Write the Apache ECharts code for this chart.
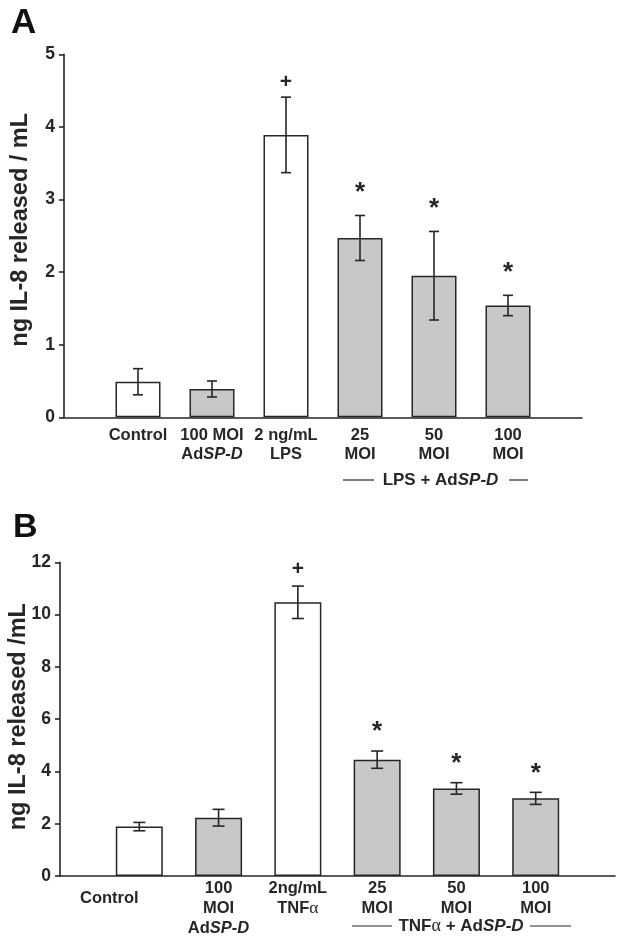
<!DOCTYPE html>
<html><head><meta charset="utf-8">
<script src="https://cdn.jsdelivr.net/npm/echarts@6/dist/echarts.min.js"></script>
<style>html,body{margin:0;padding:0;background:#fff}#c{width:624px;height:941px}</style>
</head><body><div id="c"></div>
<script>
// ---- Data (panel A: LPS) ----
var categoriesA = ['Control', '100 MOI\nAd{i|SP-D}', '2 ng/mL\nLPS', '25\nMOI', '50\nMOI', '100\nMOI'];
var valuesA = [0.49, 0.39, 3.89, 2.47, 1.95, 1.54];
var errorsA = [0.18, 0.11, 0.52, 0.31, 0.61, 0.14];
var fillA = ['white', 'gray', 'white', 'gray', 'gray', 'gray'];
var marksA = ['', '', '+', '*', '*', '*'];
var yTicksA = [0, 1, 2, 3, 4, 5];

// ---- Data (panel B: TNFα) ----
var categoriesB = ['{c|Control}', '100\nMOI\nAd{i|SP-D}', '2ng/mL\nTNF{g|α}', '25\nMOI', '50\nMOI', '100\nMOI'];
var valuesB = [1.89, 2.23, 10.47, 4.45, 3.35, 2.97];
var errorsB = [0.16, 0.32, 0.62, 0.33, 0.22, 0.23];
var fillB = ['white', 'gray', 'white', 'gray', 'gray', 'gray'];
var marksB = ['', '', '+', '*', '*', '*'];
var yTicksB = [0, 2, 4, 6, 8, 10, 12];

var FONT = '"Liberation Sans", Arial, sans-serif';
var INK = '#262626';
var GRAY = '#c8c8c8';
var LBL = 16.5;

var chart = echarts.init(document.getElementById('c'), null, {renderer: 'canvas'});

function axisCats(cats) { return [''].concat(cats).concat(['']); }

function barData(vals, fills) {
  return vals.map(function (v, i) {
    return {value: [i + 1, v], itemStyle: {color: fills[i] === 'gray' ? GRAY : '#ffffff'}};
  });
}
function errData(vals, errs) {
  return vals.map(function (v, i) { return [i + 1, v, errs[i]]; });
}
function errRender(marks, capHalf, plusGap, starGap) {
  return function (params, api) {
    var x = api.value(0), y = api.value(1), e = api.value(2);
    var hi = api.coord([x, y + e]);
    var lo = api.coord([x, y - e]);
    var st = {stroke: INK, lineWidth: 1.6};
    var ch = [
      {type: 'line', shape: {x1: hi[0], y1: hi[1], x2: lo[0], y2: lo[1]}, style: st},
      {type: 'line', shape: {x1: hi[0] - capHalf, y1: hi[1], x2: hi[0] + capHalf, y2: hi[1]}, style: st},
      {type: 'line', shape: {x1: lo[0] - capHalf, y1: lo[1], x2: lo[0] + capHalf, y2: lo[1]}, style: st}
    ];
    var m = marks[params.dataIndex];
    if (m) {
      var isStar = m === '*';
      ch.push({type: 'text', x: hi[0], y: hi[1] - (isStar ? starGap : plusGap),
        style: {text: m, fill: INK, font: 'bold ' + (isStar ? 26 : 21) + 'px ' + FONT,
          align: 'center', verticalAlign: 'middle'}});
    }
    return {type: 'group', children: ch};
  };
}

var labelRich = {
  i: {fontStyle: 'italic', fontWeight: 'bold', fontSize: LBL, fontFamily: FONT, color: INK},
  g: {fontWeight: 'normal', fontSize: 17.5, fontFamily: 'serif', color: INK},
  c: {fontWeight: 'bold', fontSize: LBL, fontFamily: FONT, color: INK, lineHeight: 40, padding: [0, 60, 0, 0]}
};

function xAxisCfg(gridIndex, cats, margin, lh) {
  return {
    type: 'category', gridIndex: gridIndex, data: axisCats(cats), boundaryGap: false,
    axisLine: {lineStyle: {color: INK, width: 1.6}}, axisTick: {show: false},
    axisLabel: {interval: 0, margin: margin, color: INK, fontWeight: 'bold', fontSize: LBL,
      fontFamily: FONT, lineHeight: lh, rich: labelRich},
    splitLine: {show: false}
  };
}
function yAxisCfg(gridIndex, ticks, name, gap, shift) {
  return {
    type: 'value', gridIndex: gridIndex, min: ticks[0], max: ticks[ticks.length - 1],
    interval: ticks[1] - ticks[0],
    name: name, nameLocation: 'middle', nameRotate: 90, nameGap: gap, nameMoveOverlap: false,
    nameTextStyle: {color: INK, fontWeight: 'bold', fontSize: 23.5, fontFamily: FONT, padding: [0, 0, 0, shift]},
    axisLine: {show: true, lineStyle: {color: INK, width: 1.6}},
    axisTick: {show: true, length: 5, lineStyle: {color: INK, width: 1.6}},
    axisLabel: {color: INK, fontWeight: 'bold', fontSize: 17.5, fontFamily: FONT, margin: 9},
    splitLine: {show: false}
  };
}

function groupLabel(cx, cy, parts, halfText, leftLen, leftGap, rightLen, rightGap) {
  return {
    type: 'group', children: [
      {type: 'line', shape: {x1: cx - halfText - leftGap - leftLen, y1: cy, x2: cx - halfText - leftGap, y2: cy}, style: {stroke: INK, lineWidth: 1.2}},
      {type: 'text', x: cx, y: cy, style: {rich: {
          b: {font: 'bold 17px ' + FONT, fill: INK},
          i: {font: 'italic bold 17px ' + FONT, fill: INK},
          g: {font: 'normal 18px serif', fill: INK}
        }, text: parts, align: 'center', verticalAlign: 'middle'}},
      {type: 'line', shape: {x1: cx + halfText + rightGap, y1: cy, x2: cx + halfText + rightGap + rightLen, y2: cy}, style: {stroke: INK, lineWidth: 1.2}}
    ]
  };
}

var option = {
  backgroundColor: '#ffffff',
  animation: false,
  grid: [
    {left: 64, top: 54.3, width: 518, height: 363, containLabel: false, outerBoundsMode: 'none'},
    {left: 60, top: 562.3, width: 555, height: 313.7, containLabel: false, outerBoundsMode: 'none'}
  ],
  xAxis: [xAxisCfg(0, categoriesA, 9, 19), xAxisCfg(1, categoriesB, 2, 20)],
  yAxis: [yAxisCfg(0, yTicksA, 'ng IL-8 released / mL', 31, 12), yAxisCfg(1, yTicksB, 'ng IL-8 released /mL', 29, 5)],
  series: [
    {type: 'bar', xAxisIndex: 0, yAxisIndex: 0, barWidth: 45, data: barData(valuesA, fillA),
      itemStyle: {borderColor: INK, borderWidth: 1.5}, z: 2},
    {type: 'custom', xAxisIndex: 0, yAxisIndex: 0, data: errData(valuesA, errorsA),
      renderItem: errRender(marksA, 5, 15, 23), z: 3},
    {type: 'bar', xAxisIndex: 1, yAxisIndex: 1, barWidth: 47, data: barData(valuesB, fillB),
      itemStyle: {borderColor: INK, borderWidth: 1.5}, z: 2},
    {type: 'custom', xAxisIndex: 1, yAxisIndex: 1, data: errData(valuesB, errorsB),
      renderItem: errRender(marksB, 6, 17, 19), z: 3}
  ],
  graphic: [
    {type: 'text', left: 11, top: 6, style: {text: 'A', font: 'bold 35px ' + FONT, fill: '#111'}},
    {type: 'text', left: 13, top: 511, style: {text: 'B', font: 'bold 34px ' + FONT, fill: '#111'}},
    groupLabel(440.5, 480, '{b|LPS + Ad}{i|SP-D}', 58.5, 31, 8, 19, 10),
    groupLabel(461, 926, '{b|TNF}{g|α}{b| + Ad}{i|SP-D}', 62, 40, 7, 41, 7)
  ]
};
chart.setOption(option);
</script></body></html>
